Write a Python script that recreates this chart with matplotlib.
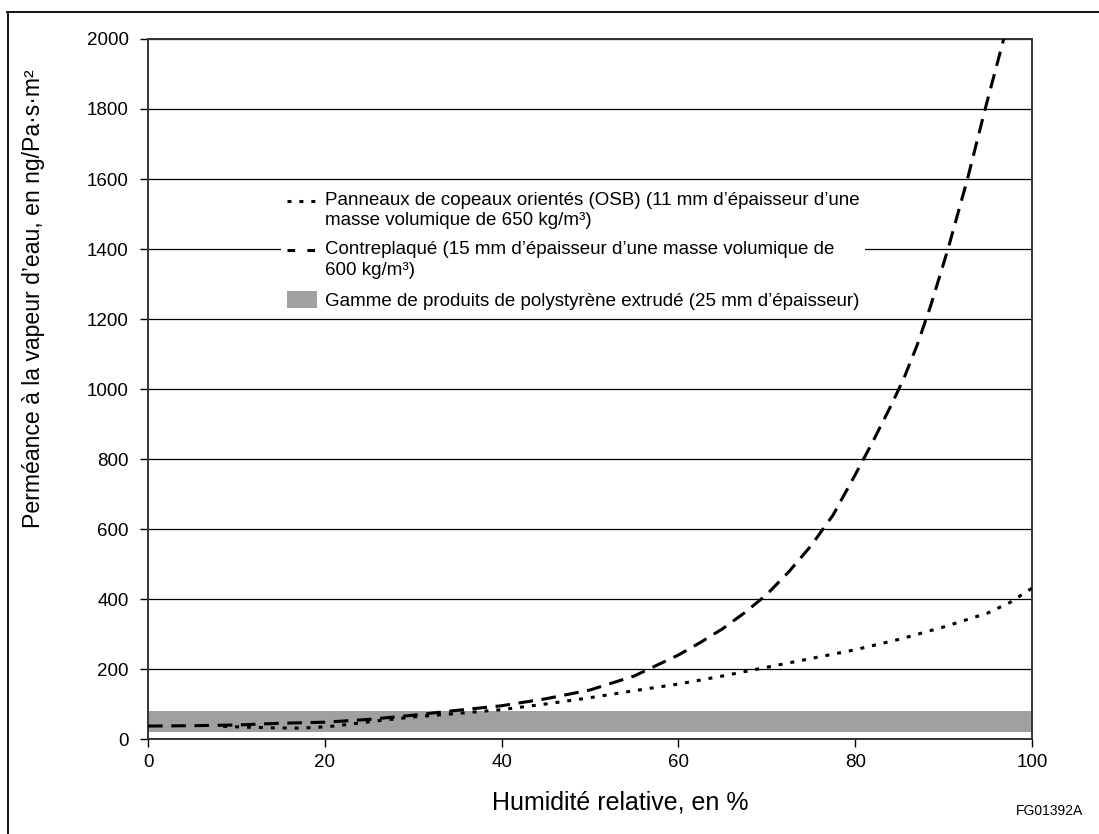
import matplotlib
matplotlib.use("Agg")
import matplotlib.pyplot as plt
from matplotlib.legend_handler import HandlerLine2D
from matplotlib.lines import Line2D
from matplotlib.patches import Patch

plt.rcParams['font.family'] = ['Liberation Sans', 'DejaVu Sans']

# contreplaqué (plywood) curve
ply_x = [0, 5, 10, 15, 20, 25, 30, 35, 40, 45, 50, 55, 60, 62.5, 65, 67.5, 70, 72.5, 75, 77.5, 80,
         82, 84, 85.5, 87, 88.5, 90.5, 92.7, 94.7, 96.8]
ply_y = [37, 38, 40, 45, 48, 56, 68, 82, 95, 115, 140, 180, 240, 276, 315, 361, 413, 478, 552, 640, 755,
         850, 950, 1030, 1125, 1235, 1400, 1600, 1800, 2000]

# OSB curve
osb_x = [8.5, 11, 14, 17, 19, 21, 23, 26, 30, 35, 40, 45, 50, 55, 60, 65, 70, 75, 80, 85, 90, 95, 97.5, 100]
osb_y = [36, 34, 32, 31, 33, 37, 43, 52, 63, 73, 84, 100, 118, 138, 157, 180, 205, 230, 255, 285, 320, 360, 390, 431]

# extruded polystyrene range
xps_low, xps_high = 20, 80

labels = [
    "Panneaux de copeaux orientés (OSB) (11 mm d’épaisseur d’une\nmasse volumique de 650 kg/m³)",
    "Contreplaqué (15 mm d’épaisseur d’une masse volumique de\n600 kg/m³)",
    "Gamme de produits de polystyrène extrudé (25 mm d’épaisseur)",
]


class RaisedLine(HandlerLine2D):
    # put the handle next to the first text line instead of the middle
    def __init__(self, shift=0, **kw):
        super().__init__(**kw)
        self.shift = shift

    def create_artists(self, legend, orig_handle, xdescent, ydescent, width, height, fontsize, trans):
        return super().create_artists(legend, orig_handle, xdescent, ydescent - 2 * self.shift,
                                      width, height, fontsize, trans)


fig = plt.figure(figsize=(10.99, 8.34), dpi=100)
ax = fig.add_axes([148 / 1099, 1 - 739 / 834, 884 / 1099, 700 / 834])

ax.axhspan(xps_low, xps_high, color='#a0a0a0', lw=0, zorder=1)
ax.plot(osb_x, osb_y, color='black', lw=2.2, dashes=(1.3, 2.6), zorder=3)
ax.plot(ply_x, ply_y, color='black', lw=2.2, dashes=(4.8, 2.8), zorder=3)

ax.set_xlim(0, 100)
ax.set_ylim(0, 2000)
ax.set_xticks(range(0, 101, 20))
ax.set_yticks(range(0, 2001, 200))
ax.yaxis.grid(True, color='black', lw=0.9)
ax.set_axisbelow(True)
ax.tick_params(direction='out', length=6, width=1, labelsize=13.5, colors='black')
ax.tick_params(axis='x', pad=5)
ax.tick_params(axis='y', pad=8)
for s in ax.spines.values():
    s.set_linewidth(1.4)
    s.set_color('#333333')

ax.set_xlabel("Humidité relative, en %", fontsize=18, ha='left')
ax.xaxis.set_label_coords((492 - 148) / 884, -0.073)
ax.set_ylabel("Perméance à la vapeur d’eau, en ng/Pa·s·m²", fontsize=16.6)
ax.yaxis.set_label_coords(-0.117, 0.629)

h_osb = Line2D([], [], color='black', lw=2.2, dashes=(1.3, 2.6))
h_ply = Line2D([], [], color='black', lw=2.2, dashes=(2.5, 4.0))
h_xps = Patch(facecolor='#a0a0a0', edgecolor='none')
leg = ax.legend([h_osb, h_ply, h_xps], labels, loc='upper left',
                bbox_to_anchor=((281 - 148) / 884, (739 - 186) / 700), borderaxespad=0,
                fontsize=13.5, frameon=True, facecolor='white', edgecolor='none',
                framealpha=1, fancybox=False, borderpad=0.3, handlelength=1.6,
                handleheight=1.0, handletextpad=0.43, labelspacing=0.65,
                handler_map={h_osb: RaisedLine(shift=6.5), h_ply: RaisedLine(shift=6.5)})
for t in leg.get_texts():
    t.set_linespacing(1.28)

fig.text(1016 / 1099, 1 - 815 / 834, "FG01392A", fontsize=10, ha='left', va='baseline')

# figure border (top and left edges)
fig.add_artist(Line2D([7 / 1099, 1], [1 - 11.5 / 834, 1 - 11.5 / 834], color='black', lw=1.3))
fig.add_artist(Line2D([7.5 / 1099, 7.5 / 1099], [0, 1 - 11.5 / 834], color='black', lw=1.3))

fig.savefig("out.png", dpi=100)
